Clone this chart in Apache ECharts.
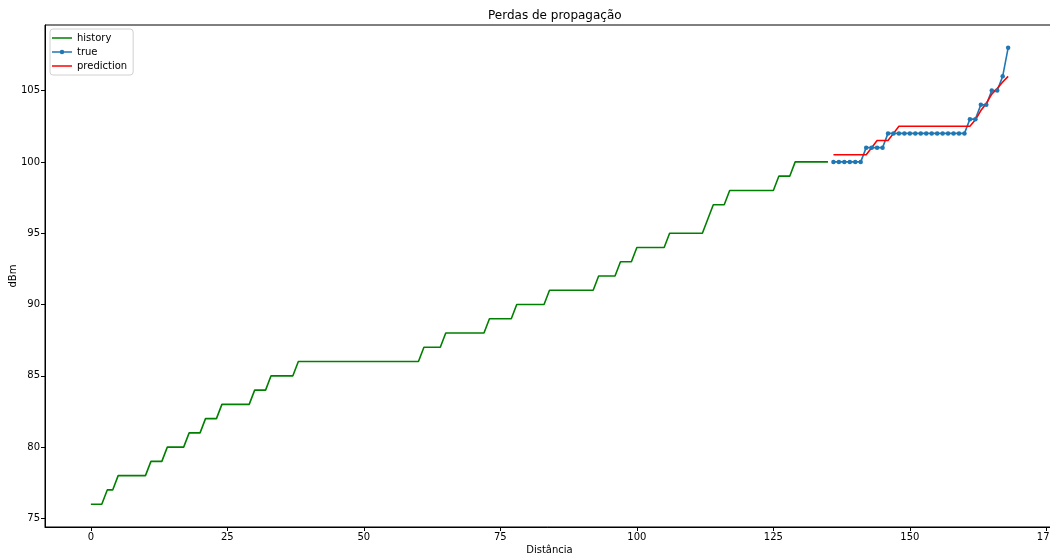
<!DOCTYPE html>
<html>
<head>
<meta charset="utf-8">
<script src="https://cdn.jsdelivr.net/npm/echarts@6/dist/echarts.min.js"></script>
<style>html,body{margin:0;padding:0;background:#fff;}#c{width:1050px;height:556px;}</style>
</head>
<body>
<div id="c"></div>
<script>
// ---- data ----
const historyStart = 0;
const historyValues = [
  76,76,76,77,77,78,78,78,78,78,78,79,79,79,80,80,80,80,81,81,
  81,82,82,82,83,83,83,83,83,83,84,84,84,85,85,85,85,85,86,86,
  86,86,86,86,86,86,86,86,86,86,86,86,86,86,86,86,86,86,86,86,
  86,87,87,87,87,88,88,88,88,88,88,88,88,89,89,89,89,89,90,90,
  90,90,90,90,91,91,91,91,91,91,91,91,91,92,92,92,92,93,93,93,
  94,94,94,94,94,94,95,95,95,95,95,95,95,96,97,97,97,98,98,98,
  98,98,98,98,98,98,99,99,99,100,100,100,100,100,100,100
];
const trueStart = 136;
const trueValues = [
  100,100,100,100,100,100,101,101,101,101,
  102,102,102,102,102,102,102,102,102,102,102,102,102,102,102,
  103,103,104,104,105,105,106,108
];
const predStart = 136;
const predValues = [
  100.5,100.5,100.5,100.5,100.5,100.5,100.5,101.0,101.5,101.5,101.5,102.0,
  102.5,102.5,102.5,102.5,102.5,102.5,102.5,102.5,102.5,102.5,102.5,102.5,102.5,102.5,
  102.95,103.6,104.1,104.75,105.15,105.6,106.0
];
const xTicks = [0,25,50,75,100,125,150,175];
const yTicks = [75,80,85,90,95,100,105];

function pairs(start, vals){ return vals.map((v,i)=>[start+i, v]); }

const FONT = 'DejaVu Sans';
const LINE_ICON = 'path://M0,0 L20,0 L20,1.5 L0,1.5 Z';
const MARK_ICON = 'path://M0,1.75 L20,1.75 L20,3.25 L0,3.25 Z M12.25,2.5 A2.25,2.25 0 1 1 7.75,2.5 A2.25,2.25 0 1 1 12.25,2.5 Z';
const chart = echarts.init(document.getElementById('c'), null, {renderer:'canvas'});
chart.setOption({
  animation:false,
  backgroundColor:'#ffffff',
  textStyle:{fontFamily:FONT},
  title:{
    text:'Perdas de propagação',
    left:488, top:10, padding:0,
    textStyle:{fontFamily:FONT,fontSize:12,fontWeight:'normal',color:'#000'}
  },
  legend:{
    orient:'vertical', left:50, top:29,
    padding:[4,6,4,2], itemGap:4, itemWidth:20, itemHeight:10,
    borderColor:'#d0d0d0', borderWidth:1, borderRadius:3,
    backgroundColor:'rgba(255,255,255,0.8)',
    textStyle:{fontFamily:FONT,fontSize:10,color:'#000'},
    data:[
      {name:'history', icon:LINE_ICON},
      {name:'true', icon:MARK_ICON},
      {name:'prediction', icon:LINE_ICON}
    ]
  },
  grid:{left:45, top:25, width:1009, height:502, show:true, borderColor:'#000', borderWidth:1,
        backgroundColor:'transparent', containLabel:false, outerBoundsMode:'none'},
  xAxis:{
    type:'value', min:-8.4, max:176.4,
    name:'Distância', nameLocation:'middle', nameGap:18, nameMoveOverlap:false,
    nameTextStyle:{fontFamily:FONT,fontSize:10,color:'#000'},
    axisLine:{show:true,onZero:false,lineStyle:{color:'#000',width:1}},
    axisTick:{show:true,inside:false,length:4,lineStyle:{color:'#000'},customValues:xTicks},
    axisLabel:{fontFamily:FONT,fontSize:10,color:'#000',margin:5,customValues:xTicks},
    splitLine:{show:false}
  },
  yAxis:{
    type:'value', min:74.4, max:109.6,
    name:'dBm', nameLocation:'middle', nameGap:27, nameRotate:90, nameMoveOverlap:false,
    nameTextStyle:{fontFamily:FONT,fontSize:10,color:'#000'},
    axisLine:{show:true,onZero:false,lineStyle:{color:'#000',width:1}},
    axisTick:{show:true,inside:false,length:4,lineStyle:{color:'#000'},customValues:yTicks},
    axisLabel:{fontFamily:FONT,fontSize:10,color:'#000',margin:5,customValues:yTicks},
    splitLine:{show:false}
  },
  series:[
    {name:'history', type:'line', data:pairs(historyStart,historyValues),
     symbol:'none', lineStyle:{color:'#008000',width:1.6}, itemStyle:{color:'#008000'}},
    {name:'true', type:'line', data:pairs(trueStart,trueValues),
     symbol:'circle', symbolSize:4.5, showAllSymbol:true,
     lineStyle:{color:'#1f77b4',width:1.6}, itemStyle:{color:'#1f77b4'}},
    {name:'prediction', type:'line', data:pairs(predStart,predValues),
     symbol:'none', lineStyle:{color:'#ff0000',width:1.6}, itemStyle:{color:'#ff0000'}}
  ]
});
</script>
</body>
</html>
